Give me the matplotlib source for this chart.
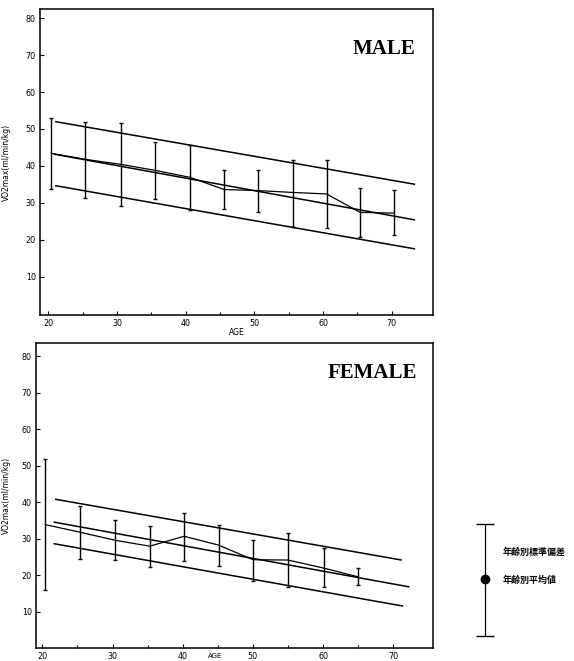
import matplotlib
matplotlib.use("Agg")
import matplotlib.pyplot as plt

plt.rcParams['font.family'] = ['DejaVu Sans', 'Noto Sans CJK JP']

# ---------------- data ----------------
male_age = [20.4, 25.3, 30.6, 35.5, 40.6, 45.6, 50.6, 55.6, 60.5, 65.4, 70.3]
male_mean = [43.4, 41.8, 40.4, 38.8, 36.9, 33.6, 33.3, 32.8, 32.4, 27.4, 27.2]
male_sd_top = [53.1, 52.0, 51.7, 46.4, 45.7, 38.9, 38.9, 41.6, 41.6, 34.1, 33.5]
male_sd_bot = [33.7, 31.3, 29.0, 31.1, 28.0, 28.2, 27.6, 23.5, 23.1, 20.6, 21.2]

male_reg_age = [20.8, 73.4]
male_reg_mean = [43.2, 25.35]
male_reg_upper_age = [21.0, 73.4]
male_reg_upper = [52.0, 35.0]
male_reg_lower_age = [21.0, 73.4]
male_reg_lower = [34.65, 17.5]

female_age = [20.4, 25.4, 30.4, 35.3, 40.2, 45.1, 50.0, 55.0, 60.1, 65.0]
female_mean = [33.9, 31.8, 29.6, 28.0, 30.7, 28.3, 24.3, 24.2, 22.0, 19.6]
female_sd_top = [51.8, 38.9, 35.1, 33.6, 37.2, 33.7, 29.6, 31.6, 27.5, 21.9]
female_sd_bot = [16.1, 24.4, 24.2, 22.3, 24.0, 22.5, 18.6, 16.8, 16.8, 17.5]

female_reg_age = [21.6, 72.3]
female_reg_mean = [34.6, 16.85]
female_reg_upper_age = [21.8, 71.2]
female_reg_upper = [40.85, 24.2]
female_reg_lower_age = [21.6, 71.4]
female_reg_lower = [28.7, 11.6]

x_ticks = [20, 30, 40, 50, 60, 70]
x_minor = [25, 35, 45, 55, 65]
y_ticks = [10, 20, 30, 40, 50, 60, 70, 80]

legend_labels = ["年齢別標準偏差", "年齢別平均値"]

# ---------------- figure ----------------
W, H = 574, 661
fig = plt.figure(figsize=(W / 100, H / 100), dpi=100)
fig.patch.set_facecolor('white')


def px_axes(left, top, right, bottom):
    return fig.add_axes([left / W, 1 - bottom / H, (right - left) / W, (bottom - top) / H])


def panel(ax, ages, means, tops, bots, reg, title, xlim, ylim, title_xy, ylab_x):
    ax.set_xlim(*xlim)
    ax.set_ylim(*ylim)
    for (xa, ya) in reg:
        ax.plot(xa, ya, color='black', lw=1.1, solid_capstyle='butt')
    ax.plot(ages, means, color='black', lw=0.9)
    yerr = [[m - b for m, b in zip(means, bots)], [t - m for m, t in zip(means, tops)]]
    ax.errorbar(ages, means, yerr=yerr, fmt='none', ecolor='black',
                elinewidth=1.0, capsize=1.6, capthick=1.0)
    ax.set_xticks(x_ticks)
    ax.set_xticks(x_minor, minor=True)
    ax.set_yticks(y_ticks)
    ax.tick_params(direction='in', length=3, width=0.8, labelsize=5.8, pad=3)
    ax.tick_params(which='minor', direction='in', length=2, width=0.8)
    for s in ax.spines.values():
        s.set_linewidth(1.1)
    ax.text(*title_xy, title, transform=ax.transAxes, ha='right', va='center',
            fontsize=15, family='Liberation Serif', weight='bold')
    ax.text(ylab_x, 0.5, "VO2max(ml/min/kg)", transform=ax.transAxes, rotation=90,
            ha='center', va='center', fontsize=5.5)


ax1 = px_axes(40, 9, 433, 315)
panel(ax1, male_age, male_mean, male_sd_top, male_sd_bot,
      [(male_reg_age, male_reg_mean), (male_reg_upper_age, male_reg_upper),
       (male_reg_lower_age, male_reg_lower)],
      "MALE", (18.8, 76.0), (-0.4, 82.5), (0.955, 0.87), -0.085)
ax1.set_xlabel("AGE", fontsize=5.5, labelpad=0)

ax2 = px_axes(36, 343, 433, 648)
panel(ax2, female_age, female_mean, female_sd_top, female_sd_bot,
      [(female_reg_age, female_reg_mean), (female_reg_upper_age, female_reg_upper),
       (female_reg_lower_age, female_reg_lower)],
      "FEMALE", (19.1, 75.65), (0.15, 83.56), (0.96, 0.9), -0.075)
ax2.text(0.45, -0.027, "AGE", transform=ax2.transAxes, ha='center', va='center', fontsize=5)

# ---------------- legend key ----------------
lax = fig.add_axes([0, 0, 1, 1], facecolor='none')
lax.set_xlim(0, W)
lax.set_ylim(H, 0)
lax.axis('off')
key_x, key_top, key_mid, key_bot = 485, 522, 579, 634
lax.errorbar([key_x], [key_mid], yerr=[[key_bot - key_mid], [key_mid - key_top]],
             fmt='o', color='black', ms=6, elinewidth=0.9, capsize=6.5, capthick=1.0)
lax.text(503, 552, legend_labels[0], fontsize=6.5, va='center', ha='left',
         family=['Noto Sans CJK JP'], weight='bold')
lax.text(503, 580, legend_labels[1], fontsize=6.5, va='center', ha='left',
         family=['Noto Sans CJK JP'], weight='bold')

fig.savefig("out.png", dpi=100, facecolor='white')
